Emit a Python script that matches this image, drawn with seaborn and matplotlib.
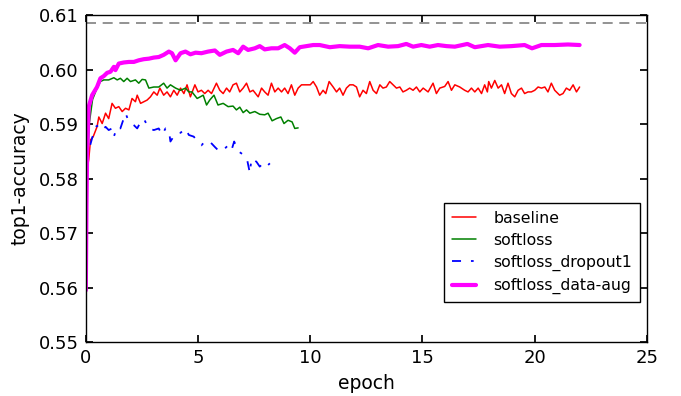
import numpy as np
import pandas as pd
import matplotlib
matplotlib.use("Agg")
import matplotlib.pyplot as plt
import seaborn as sns

# values
baseline_epoch = [0.0, 0.07, 0.13, 0.21, 0.33, 0.50, 0.58, 0.73, 0.88, 1.02, 1.17, 1.32, 1.47, 1.62, 1.77,
                  1.92, 2.06, 2.21, 2.29, 2.44, 2.58, 2.73, 2.88, 3.03, 3.18, 3.30, 3.47, 3.62, 3.77, 3.92,
                  4.07, 4.22, 4.37, 4.51, 4.66, 4.86, 5.00, 5.15, 5.30, 5.45, 5.60, 5.82, 5.97, 6.12, 6.27,
                  6.41, 6.56, 6.71, 6.86, 7.01, 7.16, 7.31, 7.45, 7.68, 7.83, 7.97, 8.12, 8.27, 8.42, 8.57,
                  8.72, 8.86, 9.01, 9.16, 9.31, 9.46, 9.61, 9.83, 10.0, 10.13, 10.28, 10.42, 10.57, 10.69,
                  10.84, 11.02, 11.17, 11.31, 11.46, 11.61, 11.76, 11.91, 12.06, 12.20, 12.35, 12.50, 12.65,
                  12.80, 12.95, 13.10, 13.24, 13.39, 13.54, 13.69, 13.84, 13.99, 14.13, 14.28, 14.43, 14.58,
                  14.73, 14.88, 15.03, 15.25, 15.47, 15.62, 15.77, 15.99, 16.14, 16.29, 16.44, 16.66, 16.88,
                  17.03, 17.18, 17.33, 17.48, 17.63, 17.77, 17.89, 17.95, 18.07, 18.22, 18.37, 18.52, 18.66,
                  18.81, 18.96, 19.11, 19.26, 19.41, 19.55, 19.70, 19.85, 20.00, 20.15, 20.30, 20.45, 20.59,
                  20.74, 20.89, 21.11, 21.26, 21.41, 21.56, 21.71, 21.86, 22.00]
baseline_acc = [0.5710, 0.5820, 0.5835, 0.5871, 0.5877, 0.5895, 0.5913, 0.5901, 0.5920, 0.5910, 0.5938,
                0.5929, 0.5932, 0.5923, 0.5929, 0.5926, 0.5947, 0.5941, 0.5953, 0.5938, 0.5941, 0.5944,
                0.5950, 0.5959, 0.5953, 0.5966, 0.5953, 0.5959, 0.5950, 0.5962, 0.5953, 0.5966, 0.5956,
                0.5972, 0.5950, 0.5972, 0.5959, 0.5962, 0.5956, 0.5962, 0.5956, 0.5975, 0.5962, 0.5956,
                0.5966, 0.5959, 0.5972, 0.5975, 0.5959, 0.5966, 0.5975, 0.5959, 0.5962, 0.5950, 0.5966,
                0.5959, 0.5953, 0.5975, 0.5959, 0.5966, 0.5959, 0.5966, 0.5956, 0.5972, 0.5953, 0.5966,
                0.5972, 0.5972, 0.5972, 0.5978, 0.5968, 0.5953, 0.5962, 0.5956, 0.5978, 0.5968, 0.5959,
                0.5966, 0.5953, 0.5966, 0.5972, 0.5972, 0.5968, 0.5950, 0.5962, 0.5956, 0.5978, 0.5962,
                0.5956, 0.5972, 0.5966, 0.5968, 0.5978, 0.5972, 0.5966, 0.5968, 0.5959, 0.5962, 0.5966,
                0.5962, 0.5968, 0.5959, 0.5966, 0.5959, 0.5975, 0.5956, 0.5966, 0.5969, 0.5978, 0.5962,
                0.5972, 0.5968, 0.5962, 0.5959, 0.5966, 0.5959, 0.5966, 0.5956, 0.5972, 0.5959, 0.5978,
                0.5966, 0.5980, 0.5966, 0.5972, 0.5956, 0.5975, 0.5956, 0.5950, 0.5962, 0.5966, 0.5956,
                0.5959, 0.5959, 0.5962, 0.5968, 0.5966, 0.5968, 0.5959, 0.5975, 0.5962, 0.5953, 0.5956,
                0.5966, 0.5962, 0.5972, 0.5959, 0.5968]

softloss_epoch = [0.0, 0.15, 0.30, 0.50, 0.65, 0.80, 1.02, 1.25, 1.40, 1.54, 1.69, 1.84, 1.99, 2.21, 2.36,
                  2.51, 2.66, 2.81, 3.03, 3.25, 3.47, 3.62, 3.77, 4.00, 4.22, 4.44, 4.59, 4.73, 4.96, 5.10,
                  5.23, 5.38, 5.52, 5.71, 5.89, 6.12, 6.34, 6.56, 6.71, 6.86, 7.01, 7.16, 7.31, 7.53, 7.75,
                  7.97, 8.12, 8.30, 8.49, 8.69, 8.83, 9.01, 9.19, 9.31, 9.46]
softloss_acc = [0.5760, 0.5900, 0.5945, 0.5966, 0.5978, 0.5981, 0.5981, 0.5985, 0.5981, 0.5984, 0.5978,
                0.5984, 0.5978, 0.5981, 0.5975, 0.5982, 0.5981, 0.5966, 0.5968, 0.5968, 0.5975, 0.5966,
                0.5972, 0.5966, 0.5962, 0.5966, 0.5959, 0.5959, 0.5947, 0.5950, 0.5953, 0.5935, 0.5944,
                0.5953, 0.5935, 0.5938, 0.5932, 0.5933, 0.5926, 0.5931, 0.5921, 0.5926, 0.5920, 0.5923,
                0.5918, 0.5917, 0.5920, 0.5906, 0.5910, 0.5913, 0.5901, 0.5907, 0.5904, 0.5892, 0.5893]

dropout_epoch = [0.20, 0.28, 0.43, 0.58, 0.73, 0.88, 1.02, 1.17, 1.25, 1.40, 1.54, 1.77, 1.92, 2.14, 2.29,
                 2.44, 2.58, 2.81, 3.03, 3.25, 3.40, 3.55, 3.70, 3.77, 4.00, 4.22, 4.44, 4.59, 4.81, 5.03,
                 5.15, 5.35, 5.52, 5.75, 5.97, 6.19, 6.34, 6.49, 6.61, 6.80, 6.94, 7.16, 7.31, 7.38, 7.60,
                 7.75, 7.90, 8.05, 8.20]
dropout_acc = [0.5862, 0.5874, 0.5895, 0.5898, 0.5889, 0.5895, 0.5889, 0.5892, 0.5877, 0.5895, 0.5892,
               0.5920, 0.5904, 0.5898, 0.5892, 0.5904, 0.5910, 0.5892, 0.5889, 0.5892, 0.5880, 0.5892,
               0.5889, 0.5868, 0.5883, 0.5884, 0.5892, 0.5880, 0.5877, 0.5865, 0.5861, 0.5870, 0.5868,
               0.5858, 0.5849, 0.5855, 0.5861, 0.5852, 0.5868, 0.5850, 0.5846, 0.5840, 0.5810, 0.5837,
               0.5831, 0.5822, 0.5828, 0.5822, 0.5828]

aug_epoch = [0.0, 0.03, 0.06, 0.13, 0.28, 0.50, 0.65, 0.80, 0.95, 1.10, 1.25, 1.32, 1.47, 1.69, 1.92,
             2.14, 2.36, 2.58, 2.81, 3.03, 3.25, 3.47, 3.70, 3.84, 4.00, 4.22, 4.44, 4.66, 4.89, 5.15,
             5.45, 5.75, 5.97, 6.27, 6.56, 6.79, 7.01, 7.23, 7.53, 7.75, 7.97, 8.27, 8.57, 8.86, 9.09,
             9.31, 9.53, 9.83, 10.13, 10.42, 10.87, 11.31, 11.76, 12.20, 12.58, 13.02, 13.47, 13.91,
             14.28, 14.58, 14.95, 15.32, 15.69, 16.07, 16.44, 17.00, 17.33, 17.92, 18.44, 18.96, 19.55,
             19.88, 20.30, 20.89, 21.48, 22.00]
aug_acc = [0.5595, 0.5750, 0.5850, 0.5932, 0.5953, 0.5968, 0.5984, 0.5988, 0.5994, 0.5996, 0.6005,
           0.5999, 0.6011, 0.6013, 0.6014, 0.6014, 0.6017, 0.6019, 0.6020, 0.6022, 0.6023, 0.6027,
           0.6033, 0.6030, 0.6017, 0.6030, 0.6033, 0.6028, 0.6031, 0.6030, 0.6033, 0.6035, 0.6027,
           0.6033, 0.6036, 0.6030, 0.6042, 0.6036, 0.6039, 0.6043, 0.6037, 0.6039, 0.6039, 0.6045,
           0.6039, 0.6031, 0.6041, 0.6043, 0.6045, 0.6045, 0.6041, 0.6043, 0.6042, 0.6042, 0.6039,
           0.6045, 0.6042, 0.6043, 0.6047, 0.6042, 0.6045, 0.6042, 0.6045, 0.6043, 0.6042, 0.6047,
           0.6041, 0.6045, 0.6042, 0.6043, 0.6045, 0.6039, 0.6045, 0.6045, 0.6046, 0.6045]

reference_acc = 0.6086

sns.set_theme(style="ticks", rc={
    "xtick.direction": "in", "ytick.direction": "in",
    "xtick.top": True, "ytick.right": True,
    "xtick.major.size": 5, "ytick.major.size": 5,
    "axes.edgecolor": "black", "axes.linewidth": 1.0,
    "text.color": "black", "axes.labelcolor": "black",
    "xtick.color": "black", "ytick.color": "black",
})
plt.rcParams["font.family"] = ["DejaVu Sans"]

fig = plt.figure(figsize=(6.81, 3.96), dpi=100)
ax = fig.add_axes([0.126, 0.136, 0.824, 0.826])

sns.lineplot(x=baseline_epoch, y=baseline_acc, ax=ax, color="red", linewidth=1.1, label="baseline")
sns.lineplot(x=softloss_epoch, y=softloss_acc, ax=ax, color="green", linewidth=1.1, label="softloss")
sns.lineplot(x=dropout_epoch, y=dropout_acc, ax=ax, color="blue", linewidth=1.3,
             linestyle=(0, (5, 5.5, 1.5, 5.5)), label="softloss_dropout1")
sns.lineplot(x=aug_epoch, y=aug_acc, ax=ax, color="magenta", linewidth=3.0, label="softloss_data-aug")
ax.axhline(reference_acc, color="gray", linestyle=(0, (6, 4)), linewidth=1.2)

ax.set_xlim(0, 25)
ax.set_ylim(0.55, 0.61)
ax.set_xticks([0, 5, 10, 15, 20, 25])
ax.set_yticks([0.55, 0.56, 0.57, 0.58, 0.59, 0.60, 0.61])
ax.set_yticklabels(["0.55", "0.56", "0.57", "0.58", "0.59", "0.60", "0.61"])
ax.tick_params(labelsize=13, colors="black", pad=5)
ax.set_xlabel("epoch", fontsize=13.5, labelpad=5)
ax.set_ylabel("top1-accuracy", fontsize=13.5, labelpad=7)

leg = ax.legend(loc="lower right", bbox_to_anchor=(0.988, 0.122), borderaxespad=0,
                fontsize=11.3, fancybox=False, framealpha=1, edgecolor="black",
                handlelength=1.55, handletextpad=1.1, borderpad=0.5, labelspacing=0.45)
leg.get_frame().set_linewidth(1.0)
for t in leg.get_texts():
    t.set_color("black")

fig.savefig("out.png", dpi=100)
